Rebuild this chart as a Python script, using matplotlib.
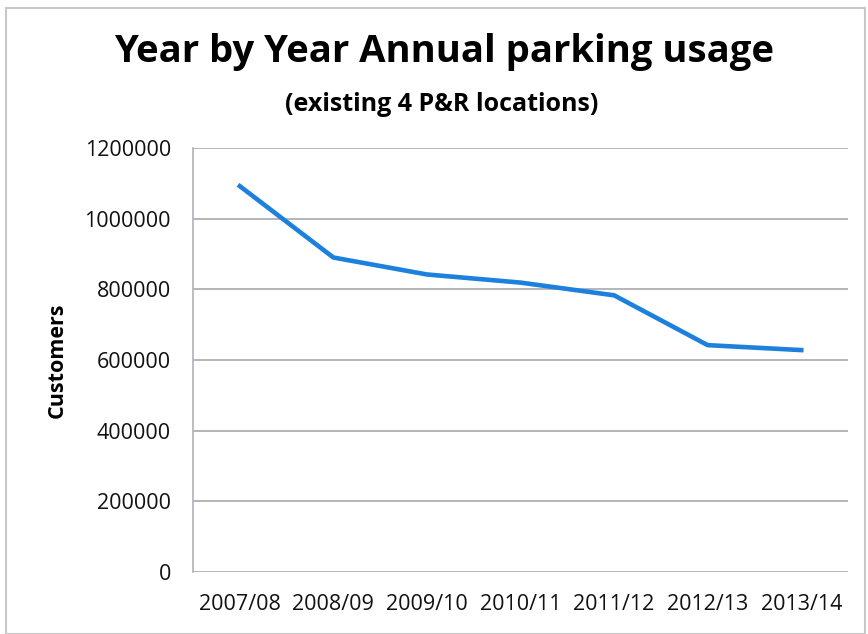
import matplotlib
matplotlib.use('Agg')
import matplotlib.pyplot as plt
from matplotlib.patches import Rectangle

# Data
years = ['2007/08', '2008/09', '2009/10', '2010/11', '2011/12', '2012/13', '2013/14']
customers = [1092000, 890000, 842000, 819000, 783000, 642000, 628000]
y_ticks = [0, 200000, 400000, 600000, 800000, 1000000, 1200000]

plt.rcParams['font.family'] = ['Open Sans', 'DejaVu Sans']

fig = plt.figure(figsize=(8.68, 6.34), dpi=100)
ax = fig.add_axes([0.2224, 0.0978, 0.7546, 0.6688])

x = list(range(len(years)))
ax.plot(x, customers, color='#1c80dc', linewidth=3.3, solid_joinstyle='round')

ax.set_xlim(-0.5, len(years) - 0.5)
ax.set_ylim(0, 1200000)
ax.set_yticks(y_ticks)
ax.set_yticklabels([str(v) for v in y_ticks])
ax.set_xticks(x)
ax.set_xticklabels(years)
ax.tick_params(axis='both', length=0, labelsize=15.5, colors='#111111')
ax.tick_params(axis='x', pad=16)
ax.tick_params(axis='y', pad=16)

ax.grid(axis='y', color='#a8a8b0', linewidth=1.2)
ax.set_axisbelow(True)
for s in ['top', 'right', 'bottom']:
    ax.spines[s].set_visible(False)
ax.spines['left'].set_color('#b0b0b8')
ax.spines['left'].set_linewidth(1.2)

ylab = ax.set_ylabel('Customers', fontsize=15.5, fontweight='bold')
ylab.set_va('center')
ax.yaxis.set_label_coords(-0.208, 0.5)

fig.text(0.512, 0.918, 'Year by Year Annual parking usage', ha='center', va='center',
         fontsize=27.5, fontweight='bold')
fig.text(0.509, 0.835, '(existing 4 P&R locations)', ha='center', va='center',
         fontsize=18, fontweight='bold')

# frame of the scanned page
fig.patches.append(Rectangle((0.007, 0.0), 0.99, 0.988, transform=fig.transFigure,
                             fill=False, edgecolor='#c8c8c8', linewidth=1.5))

fig.savefig('out.png', dpi=100)
